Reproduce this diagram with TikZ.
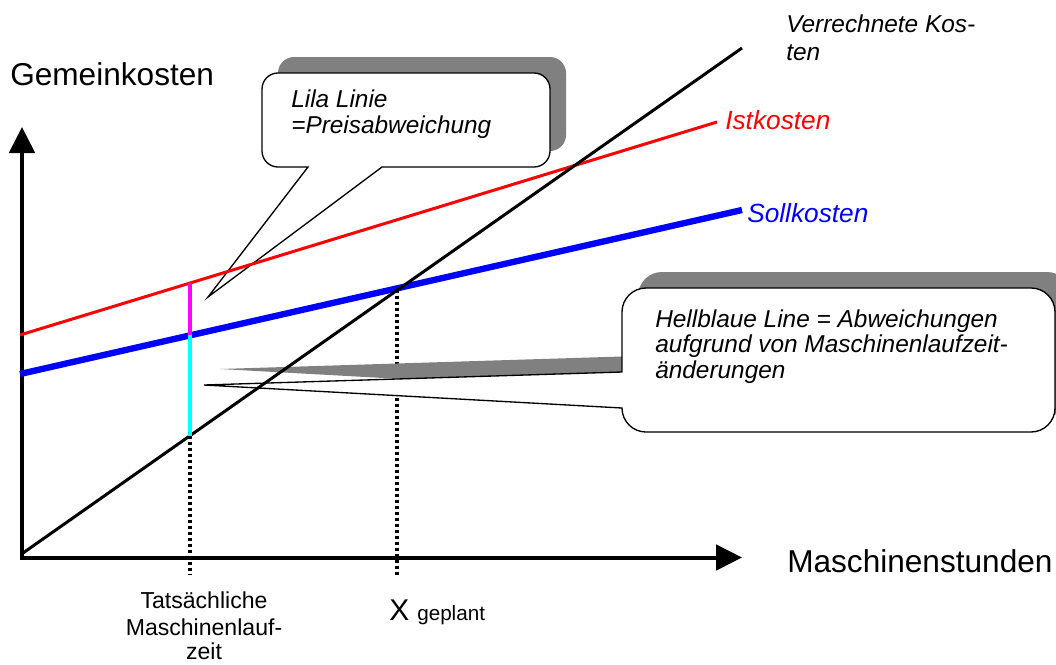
\documentclass[tikz,border=0pt]{standalone}
\usepackage{fontspec}
\setmainfont{Liberation Sans}
\usetikzlibrary{arrows.meta}
\definecolor{shadowgray}{RGB}{128,128,128}
\definecolor{pureblue}{RGB}{0,0,255}
\definecolor{purered}{RGB}{255,0,0}
\definecolor{puremagenta}{RGB}{255,0,255}
\definecolor{purecyan}{RGB}{0,255,255}
\begin{document}
\begin{tikzpicture}[x=0.75pt,y=-0.75pt,
  axisline/.style={line width=3pt, line join=miter,
    {Triangle[length=19.5pt,width=19pt]}-{Triangle[length=19.5pt,width=19pt]}},
  helpline/.style={line width=2.4pt, dash pattern=on 2.25pt off 2.25pt},
  shadowfill/.style={fill=shadowgray, draw=none},
  calloutbox/.style={fill=white, draw=black, line width=1pt, line join=miter},
  txt/.style={inner sep=0pt, anchor=base west},
  axislbl/.style={txt, font=\fontsize{23.7}{27}\selectfont},
  itlbl/.style={txt, font=\fontsize{18.3}{21}\selectfont\itshape},
  curvelbl/.style={txt, font=\fontsize{19.7}{23}\selectfont\itshape},
  smalllbl/.style={inner sep=0pt, anchor=base, font=\fontsize{17.3}{20}\selectfont},
  xlbl/.style={txt, font=\fontsize{22.5}{26}\selectfont},
  sublbl/.style={txt, font=\fontsize{15.5}{18}\selectfont}]
\useasboundingbox (0,0) rectangle (1056,664);
\clip (0,0) rectangle (1056,664);

% key points
\coordinate (O)  at (22,557.5);
\coordinate (YT) at (22,127);
\coordinate (XT) at (742,557.5);
\coordinate (R0) at (20,335);
\coordinate (R1) at (717,122);
\coordinate (B0) at (20,374);
\coordinate (B1) at (742,210);
\coordinate (K0) at (23,553);
\coordinate (K1) at (742,48);
\coordinate (PR) at (190,283);
\coordinate (PB) at (190,335.4);
\coordinate (PK) at (190,435.7);
\coordinate (PD) at (190,575);
\coordinate (QK) at (397,289.5);
\coordinate (QD) at (397,575);

% dotted drop lines
\draw[helpline] (PK) -- (PD);
\draw[helpline] (QK) -- (QD);

% shadows of the callouts
\begin{scope}[shift={(16,-16)}]
\path[shadowfill] (278,73) -- (534,73) .. controls (542.8,73) and (550,80.2) .. (550,89)
  -- (550,151) .. controls (550,159.8) and (542.8,167) .. (534,167)
  -- (382,167) -- (208,297) -- (308,167) -- (278,167)
  .. controls (269.2,167) and (262,159.8) .. (262,151)
  -- (262,89) .. controls (262,80.2) and (269.2,73) .. (278,73) -- cycle;
\path[shadowfill] (646,288) -- (1031,288) .. controls (1044.25,288) and (1055,298.75) .. (1055,312)
  -- (1055,408) .. controls (1055,421.25) and (1044.25,432) .. (1031,432)
  -- (646,432) .. controls (632.75,432) and (622,421.25) .. (622,408)
  -- (204,385) -- (622,372)
  -- (622,312) .. controls (622,298.75) and (632.75,288) .. (646,288) -- cycle;
\end{scope}

% callouts
\path[calloutbox] (278,73) -- (534,73) .. controls (542.8,73) and (550,80.2) .. (550,89)
  -- (550,151) .. controls (550,159.8) and (542.8,167) .. (534,167)
  -- (382,167) -- (208,297) -- (308,167) -- (278,167)
  .. controls (269.2,167) and (262,159.8) .. (262,151)
  -- (262,89) .. controls (262,80.2) and (269.2,73) .. (278,73) -- cycle;
\path[calloutbox] (646,288) -- (1031,288) .. controls (1044.25,288) and (1055,298.75) .. (1055,312)
  -- (1055,408) .. controls (1055,421.25) and (1044.25,432) .. (1031,432)
  -- (646,432) .. controls (632.75,432) and (622,421.25) .. (622,408)
  -- (204,385) -- (622,372)
  -- (622,312) .. controls (622,298.75) and (632.75,288) .. (646,288) -- cycle;

% axes
\draw[axisline] (YT) -- (O) -- (XT);

% cost lines
\draw[purered, line width=2.25pt] (R0) -- (R1);
\draw[pureblue, line width=4.75pt] (B0) -- (B1);
\draw[black, line width=2.25pt] (K0) -- (K1);
\draw[puremagenta, line width=3pt] (PR) -- (PB);
\draw[purecyan, line width=3pt] (PB) -- (PK);

% labels
\node[axislbl] (gk) at (10,85) {Gemeinkosten};
\node[axislbl] (ms) at (787,572) {Maschinenstunden};
\node[itlbl] (vk1) at (786,32) {Verrechnete Kos-};
\node[itlbl] (vk2) at (786,60) {ten};
\node[curvelbl, text=purered] (ik) at (725,129) {Istkosten};
\node[curvelbl, text=pureblue] (sk) at (747,222) {Sollkosten};

\node[itlbl] (la1) at (291,107) {Lila Linie};
\node[itlbl] (la2) at (291,133) {=Preisabweichung};

\node[itlbl] (hb1) at (655,327) {Hellblaue Line = Abweichungen};
\node[itlbl] (hb2) at (655,352) {aufgrund von Maschinenlaufzeit-};
\node[itlbl] (hb3) at (655,378) {änderungen};

\node[smalllbl] (tm1) at (204,608) {Tatsächliche};
\node[smalllbl] (tm2) at (204,635) {Maschinenlauf-};
\node[smalllbl] (tm3) at (204,659) {zeit};

\node[xlbl] (xg) at (389,620) {X};
\node[sublbl] (gp) at (417,620) {geplant};
\end{tikzpicture}
\end{document}
